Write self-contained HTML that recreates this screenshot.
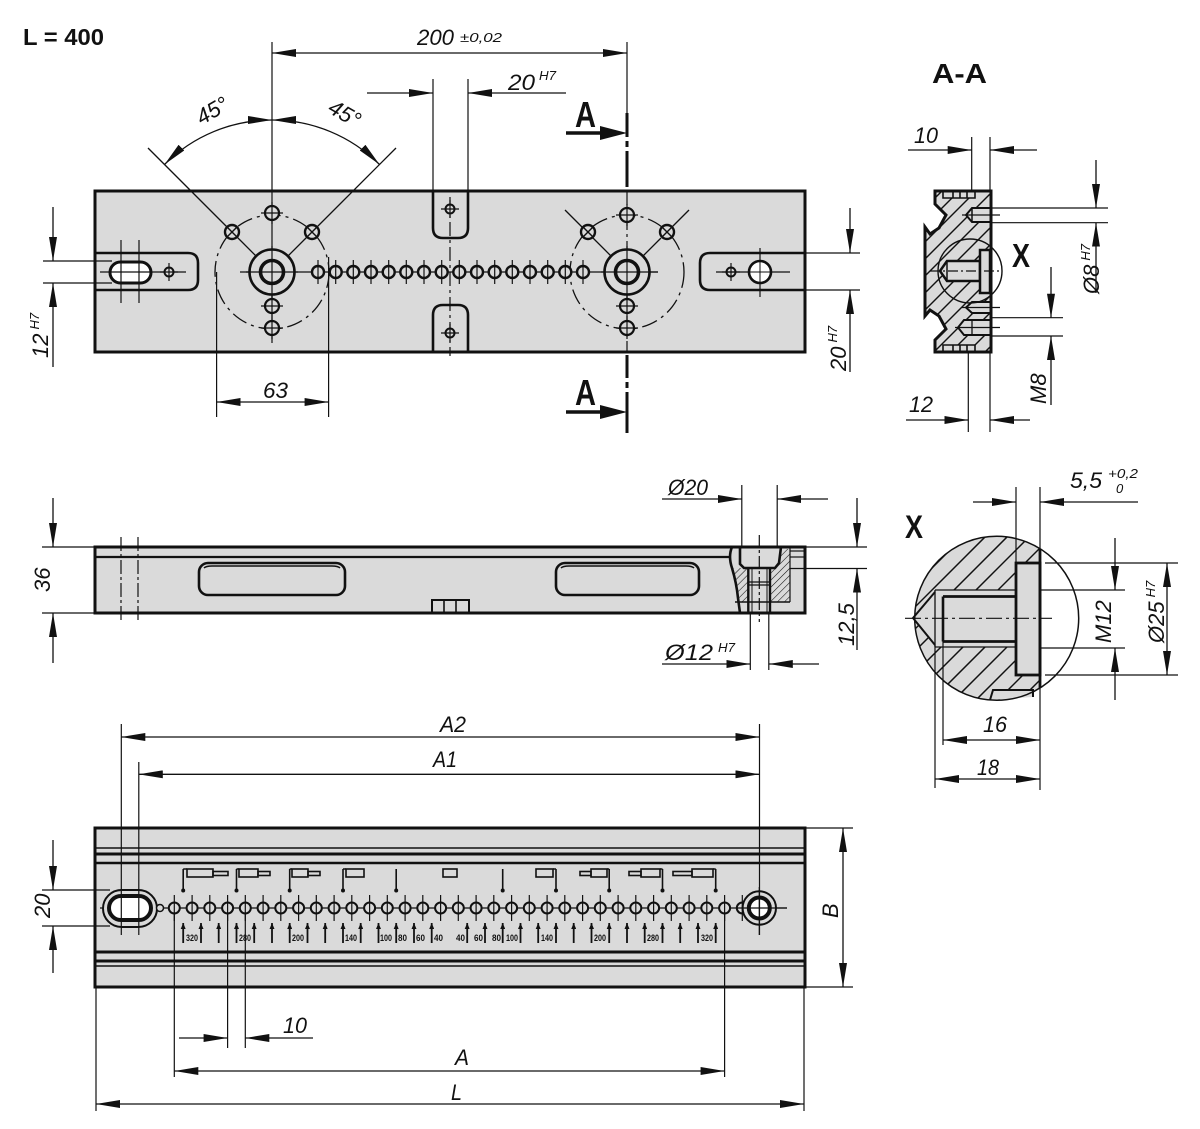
<!DOCTYPE html>
<html><head><meta charset="utf-8"><style>
html,body{margin:0;padding:0;background:#fff;}
svg{display:block;}
.t{font-family:"Liberation Sans",Arial,sans-serif;font-style:italic;font-size:22px;fill:#111;stroke:none;}
.s{font-family:"Liberation Sans",Arial,sans-serif;font-style:italic;font-size:13px;fill:#111;stroke:none;}
.b{font-family:"Liberation Sans",Arial,sans-serif;font-weight:bold;fill:#111;stroke:none;}
.n{font-family:"Liberation Sans",Arial,sans-serif;font-weight:bold;font-size:9px;fill:#111;stroke:none;}
</style></head><body>
<svg width="1200" height="1129" viewBox="0 0 1200 1129" xmlns="http://www.w3.org/2000/svg">
<defs>
<marker id="ar" viewBox="0 0 24 8" refX="24" refY="4" markerWidth="24" markerHeight="8" markerUnits="userSpaceOnUse" orient="auto-start-reverse"><path d="M0,0L24,4L0,8z" fill="#111" stroke="none"/></marker>
<marker id="sa" viewBox="0 0 6 5" refX="6" refY="2.5" markerWidth="6" markerHeight="5" markerUnits="userSpaceOnUse" orient="auto"><path d="M0,0L6,2.5L0,5z" fill="#111" stroke="none"/></marker>
<g id="rh"><circle r="6" fill="#dadada" stroke-width="2.4"/><line x1="0" y1="-12" x2="0" y2="12" stroke-width="1.2"/></g>
<g id="ph"><circle r="7" fill="#dadada" stroke-width="2.2"/><line x1="-11" y1="0" x2="11" y2="0" stroke-width="1.2"/><line x1="0" y1="-11" x2="0" y2="11" stroke-width="1.2"/></g>
<g id="xh"><circle r="7" fill="#dadada" stroke-width="2.4"/><line x1="-5" y1="-5" x2="5" y2="5" stroke-width="1.4"/><line x1="-5" y1="5" x2="5" y2="-5" stroke-width="1.4"/></g>
<g id="sh"><circle r="4.5" fill="#dadada" stroke-width="2"/><line x1="-9" y1="0" x2="9" y2="0" stroke-width="1.2"/><line x1="0" y1="-9" x2="0" y2="9" stroke-width="1.2"/></g>
<g id="bh"><circle r="5.5" fill="#dadada" stroke-width="2"/><line x1="0" y1="-13" x2="0" y2="13" stroke-width="1.2"/></g>
<pattern id="hS" width="5" height="5" patternUnits="userSpaceOnUse" patternTransform="rotate(45)"><line x1="0" y1="0" x2="0" y2="5" stroke="#111" stroke-width="1.1"/></pattern>
<clipPath id="cpA"><polygon points="935,191 991,191 991,352 935,352 935,340 946,329 939,316 930,310 925,316 925,227 930,234 939,228 946,215 935,204"/></clipPath>
<clipPath id="cpX"><path d="M1040,548.7 A82,82 0 1 0 1040,687.9 Z"/></clipPath>
</defs>

<g stroke="#111" fill="none">

<!-- ================= TOP VIEW ================= -->
<rect x="95" y="191" width="710" height="161" fill="#dadada" stroke-width="3"/>

<path d="M96,253 H188 Q198,253 198,263 V280 Q198,290 188,290 H96" stroke-width="2.6"/>
<rect x="110" y="262" width="41" height="21" rx="10.5" fill="#fff" stroke-width="3"/>
<line x1="121" y1="240" x2="121" y2="303" stroke-width="1.2"/>
<line x1="139" y1="240" x2="139" y2="303" stroke-width="1.2"/>
<line x1="100" y1="272" x2="186" y2="272" stroke-width="1.2"/>
<use href="#sh" x="169" y="272"/>

<path d="M433,191 V228 Q433,238 443,238 H458 Q468,238 468,228 V191" stroke-width="2.6"/>
<path d="M433,352 V315 Q433,305 443,305 H458 Q468,305 468,315 V352" stroke-width="2.6"/>
<line x1="450" y1="197" x2="450" y2="356" stroke-width="1.2" stroke-dasharray="14 4 3 4"/>
<use href="#sh" x="450" y="209"/>
<use href="#sh" x="450" y="333"/>

<path d="M804,253 H710 Q700,253 700,263 V280 Q700,290 710,290 H804" stroke-width="2.6"/>
<use href="#sh" x="731" y="272"/>
<line x1="716" y1="272" x2="790" y2="272" stroke-width="1.2"/>
<line x1="760" y1="248" x2="760" y2="297" stroke-width="1.2"/>
<circle cx="760" cy="272" r="11" fill="#fff" stroke-width="2.6"/>
<line x1="749" y1="272" x2="771" y2="272" stroke-width="1"/>
<line x1="760" y1="261" x2="760" y2="283" stroke-width="1"/>

<line x1="240" y1="272" x2="658" y2="272" stroke-width="1.2"/>
<line x1="272" y1="42" x2="272" y2="343" stroke-width="1.2"/>

<circle cx="272" cy="272" r="57" stroke-width="1.3" stroke-dasharray="16 5 3 5"/>
<line x1="148" y1="148" x2="227" y2="227" stroke-width="1.3"/>
<line x1="237" y1="237" x2="256" y2="256" stroke-width="1.3"/>
<line x1="396" y1="148" x2="317" y2="227" stroke-width="1.3"/>
<line x1="307" y1="237" x2="288" y2="256" stroke-width="1.3"/>
<circle cx="272" cy="272" r="22.5" fill="#dadada" stroke-width="2.6"/>
<circle cx="272" cy="272" r="11.5" stroke-width="3.6"/>
<line x1="246" y1="272" x2="298" y2="272" stroke-width="1.2"/>
<line x1="272" y1="246" x2="272" y2="298" stroke-width="1.2"/>
<use href="#ph" x="272" y="213"/>
<use href="#xh" x="232" y="232"/>
<use href="#xh" x="312" y="232"/>
<use href="#ph" x="272" y="306"/>
<use href="#ph" x="272" y="328"/>

<line x1="627" y1="191" x2="627" y2="352" stroke-width="1.2" stroke-dasharray="14 4 3 4"/>
<circle cx="627" cy="272" r="57" stroke-width="1.3" stroke-dasharray="16 5 3 5"/>
<line x1="565" y1="210" x2="582" y2="227" stroke-width="1.3"/>
<line x1="593" y1="238" x2="611" y2="256" stroke-width="1.3"/>
<line x1="689" y1="210" x2="672" y2="227" stroke-width="1.3"/>
<line x1="661" y1="238" x2="643" y2="256" stroke-width="1.3"/>
<circle cx="627" cy="272" r="22.5" fill="#dadada" stroke-width="2.6"/>
<circle cx="627" cy="272" r="11.5" stroke-width="3.6"/>
<line x1="601" y1="272" x2="658" y2="272" stroke-width="1.2"/>
<line x1="627" y1="246" x2="627" y2="298" stroke-width="1.2"/>
<use href="#ph" x="627" y="215"/>
<use href="#xh" x="588" y="232"/>
<use href="#xh" x="667" y="232"/>
<use href="#ph" x="627" y="306"/>
<use href="#ph" x="627" y="328"/>

<use href="#rh" x="318" y="272"/><use href="#rh" x="335.7" y="272"/><use href="#rh" x="353.3" y="272"/><use href="#rh" x="371" y="272"/>
<use href="#rh" x="388.7" y="272"/><use href="#rh" x="406.3" y="272"/><use href="#rh" x="424" y="272"/><use href="#rh" x="441.7" y="272"/>
<use href="#rh" x="459.3" y="272"/><use href="#rh" x="477" y="272"/><use href="#rh" x="494.7" y="272"/><use href="#rh" x="512.3" y="272"/>
<use href="#rh" x="530" y="272"/><use href="#rh" x="547.7" y="272"/><use href="#rh" x="565.3" y="272"/><use href="#rh" x="583" y="272"/>

<path d="M272,120 A152,152 0 0 0 164.5,164.5" stroke-width="1.3" marker-start="url(#ar)" marker-end="url(#ar)"/>
<path d="M272,120 A152,152 0 0 1 379.5,164.5" stroke-width="1.3" marker-start="url(#ar)" marker-end="url(#ar)"/>

<line x1="627" y1="42" x2="627" y2="113" stroke-width="1.2"/>
<line x1="272" y1="53" x2="627" y2="53" stroke-width="1.3" marker-start="url(#ar)" marker-end="url(#ar)"/>

<path d="M627,113 V137 M627,141 V147 M627,151 V187" stroke-width="3"/>
<path d="M627,355 V378 M627,382 V388 M627,392 V433" stroke-width="3"/>
<line x1="566" y1="133" x2="604" y2="133" stroke-width="3.5"/>
<polygon points="600,126 627,133 600,140" fill="#111" stroke="none"/>
<line x1="566" y1="412" x2="604" y2="412" stroke-width="3.5"/>
<polygon points="600,405 627,412 600,419" fill="#111" stroke="none"/>

<line x1="433" y1="79" x2="433" y2="191" stroke-width="1.2"/>
<line x1="468" y1="79" x2="468" y2="191" stroke-width="1.2"/>
<line x1="367" y1="93" x2="433" y2="93" stroke-width="1.3" marker-end="url(#ar)"/>
<line x1="566" y1="93" x2="468" y2="93" stroke-width="1.3" marker-end="url(#ar)"/>

<line x1="216.6" y1="272" x2="216.6" y2="417" stroke-width="1.2"/>
<line x1="328.6" y1="257" x2="328.6" y2="417" stroke-width="1.2"/>
<line x1="216.6" y1="402" x2="328.6" y2="402" stroke-width="1.3" marker-start="url(#ar)" marker-end="url(#ar)"/>

<line x1="43" y1="261" x2="112" y2="261" stroke-width="1.2"/>
<line x1="43" y1="283" x2="112" y2="283" stroke-width="1.2"/>
<line x1="53" y1="207" x2="53" y2="261" stroke-width="1.3" marker-end="url(#ar)"/>
<line x1="53" y1="367" x2="53" y2="283" stroke-width="1.3" marker-end="url(#ar)"/>

<line x1="805" y1="253" x2="860" y2="253" stroke-width="1.2"/>
<line x1="805" y1="290" x2="860" y2="290" stroke-width="1.2"/>
<line x1="850" y1="208" x2="850" y2="253" stroke-width="1.3" marker-end="url(#ar)"/>
<line x1="850" y1="372" x2="850" y2="290" stroke-width="1.3" marker-end="url(#ar)"/>

<!-- ================= SECTION A-A ================= -->
<polygon points="935,191 991,191 991,352 935,352 935,340 946,329 939,316 930,310 925,316 925,227 930,234 939,228 946,215 935,204" fill="#dadada"/>
<g clip-path="url(#cpA)" stroke-width="1.4">
<line x1="756" y1="360" x2="926" y2="190"/><line x1="773" y1="360" x2="943" y2="190"/><line x1="790" y1="360" x2="960" y2="190"/>
<line x1="807" y1="360" x2="977" y2="190"/><line x1="824" y1="360" x2="994" y2="190"/><line x1="841" y1="360" x2="1011" y2="190"/>
<line x1="858" y1="360" x2="1028" y2="190"/><line x1="875" y1="360" x2="1045" y2="190"/><line x1="892" y1="360" x2="1062" y2="190"/>
<line x1="909" y1="360" x2="1079" y2="190"/><line x1="926" y1="360" x2="1096" y2="190"/><line x1="943" y1="360" x2="1113" y2="190"/>
<line x1="960" y1="360" x2="1130" y2="190"/><line x1="977" y1="360" x2="1147" y2="190"/>
</g>
<polygon points="966,215 972,208 991,208 991,222 972,222" fill="#dadada" stroke-width="2"/>
<line x1="972" y1="208" x2="972" y2="222" stroke-width="1.5"/>
<polygon points="966,307.5 972,302 991,302 991,313 972,313" fill="#dadada" stroke-width="2"/>
<polygon points="958,327.5 964,320 991,320 991,335 964,335" fill="#dadada" stroke-width="2"/>
<line x1="972" y1="320" x2="972" y2="335" stroke-width="1.3"/>
<path d="M943,191 V198 H975 V191 M953,191 V198 M960,191 V198 M967,191 V198" fill="#dadada" stroke-width="1.6"/>
<path d="M943,352 V345 H975 V352 M953,352 V345 M960,352 V345 M967,352 V345" fill="#dadada" stroke-width="1.6"/>
<polygon points="940,271 947,261 980,261 980,281 947,281" fill="#dadada" stroke-width="2.5"/>
<line x1="947" y1="261" x2="947" y2="281" stroke-width="1.5"/>
<rect x="980" y="250" width="10" height="43" fill="#dadada" stroke-width="2.5"/>
<polygon points="935,191 991,191 991,352 935,352 935,340 946,329 939,316 930,310 925,316 925,227 930,234 939,228 946,215 935,204" stroke-width="3"/>
<circle cx="970" cy="271" r="32" stroke-width="1.4"/>
<line x1="930" y1="271" x2="1000" y2="271" stroke-width="1.2" stroke-dasharray="10 3 2 3"/>
<line x1="962" y1="215" x2="1000" y2="215" stroke-width="1.2"/>
<line x1="962" y1="307.5" x2="1000" y2="307.5" stroke-width="1.2"/>
<line x1="955" y1="327.5" x2="1000" y2="327.5" stroke-width="1.2"/>

<line x1="971.7" y1="137" x2="971.7" y2="191" stroke-width="1.2"/>
<line x1="990" y1="137" x2="990" y2="191" stroke-width="1.2"/>
<line x1="908" y1="150" x2="971.7" y2="150" stroke-width="1.3" marker-end="url(#ar)"/>
<line x1="1037" y1="150" x2="990" y2="150" stroke-width="1.3" marker-end="url(#ar)"/>
<line x1="968.3" y1="352" x2="968.3" y2="432" stroke-width="1.2"/>
<line x1="990" y1="352" x2="990" y2="432" stroke-width="1.2"/>
<line x1="906" y1="420" x2="968.3" y2="420" stroke-width="1.3" marker-end="url(#ar)"/>
<line x1="1030" y1="420" x2="990" y2="420" stroke-width="1.3" marker-end="url(#ar)"/>
<line x1="991" y1="208" x2="1108" y2="208" stroke-width="1.2"/>
<line x1="991" y1="222.7" x2="1108" y2="222.7" stroke-width="1.2"/>
<line x1="1096" y1="160" x2="1096" y2="208" stroke-width="1.3" marker-end="url(#ar)"/>
<line x1="1096" y1="293" x2="1096" y2="222.7" stroke-width="1.3" marker-end="url(#ar)"/>
<line x1="991" y1="317.7" x2="1063" y2="317.7" stroke-width="1.2"/>
<line x1="991" y1="336" x2="1063" y2="336" stroke-width="1.2"/>
<line x1="1051" y1="267" x2="1051" y2="317.7" stroke-width="1.3" marker-end="url(#ar)"/>
<line x1="1051" y1="405" x2="1051" y2="336" stroke-width="1.3" marker-end="url(#ar)"/>

<!-- ================= SIDE VIEW ================= -->
<rect x="95" y="547" width="710" height="66" fill="#dadada" stroke-width="3"/>
<line x1="95" y1="557" x2="731" y2="557" stroke-width="2.2"/>
<rect x="199" y="563" width="146" height="32" rx="9" stroke-width="2.6"/>
<path d="M204,568 Q206,566 212,566 H332 Q338,566 340,568" stroke-width="1.5"/>
<rect x="556" y="563" width="143" height="32" rx="9" stroke-width="2.6"/>
<path d="M561,568 Q563,566 569,566 H686 Q692,566 694,568" stroke-width="1.5"/>
<line x1="121" y1="537" x2="121" y2="622" stroke-width="1.2" stroke-dasharray="14 3 3 3"/>
<line x1="138" y1="537" x2="138" y2="622" stroke-width="1.2" stroke-dasharray="14 3 3 3"/>
<rect x="432" y="600" width="37" height="13" stroke-width="2"/>
<line x1="444" y1="600" x2="444" y2="613" stroke-width="1.6"/>
<line x1="456" y1="600" x2="456" y2="613" stroke-width="1.6"/>
<path d="M733,568 H748 V602 H739 C738,592 736,580 733,568 Z" fill="url(#hS)" stroke="none"/>
<path d="M771,568 L779,563 L781,549 H790 V602 H771 Z" fill="url(#hS)" stroke="none"/>
<path d="M732,547 C729,554 730,562 732,568 C735,578 737,588 738,598 L740,613" stroke-width="2.6"/>
<path d="M740,547 V564 L744,568 H775 L779,563 L781,547" stroke-width="2.6"/>
<line x1="748.3" y1="568" x2="748.3" y2="613" stroke-width="2.4"/>
<line x1="770" y1="568" x2="770" y2="613" stroke-width="2.4"/>
<line x1="752" y1="568" x2="752" y2="613" stroke-width="1"/>
<line x1="767" y1="568" x2="767" y2="613" stroke-width="1"/>
<line x1="748" y1="582" x2="770" y2="582" stroke-width="1.2"/>
<line x1="748" y1="585" x2="770" y2="585" stroke-width="1.2"/>
<line x1="735" y1="602" x2="790" y2="602" stroke-width="1.5"/>
<line x1="790" y1="547" x2="790" y2="602" stroke-width="1.2"/>
<line x1="790" y1="551" x2="805" y2="551" stroke-width="1.2"/>
<line x1="790" y1="557" x2="805" y2="557" stroke-width="1.2"/>
<line x1="759.3" y1="535" x2="759.3" y2="622" stroke-width="1.2" stroke-dasharray="12 3 3 3"/>
<line x1="741.8" y1="485" x2="741.8" y2="547" stroke-width="1.2"/>
<line x1="777.2" y1="485" x2="777.2" y2="547" stroke-width="1.2"/>
<line x1="662" y1="499" x2="741.8" y2="499" stroke-width="1.3" marker-end="url(#ar)"/>
<line x1="828" y1="499" x2="777.2" y2="499" stroke-width="1.3" marker-end="url(#ar)"/>
<line x1="750.3" y1="613" x2="750.3" y2="670" stroke-width="1.2"/>
<line x1="768.8" y1="613" x2="768.8" y2="670" stroke-width="1.2"/>
<line x1="662" y1="664" x2="750.3" y2="664" stroke-width="1.3" marker-end="url(#ar)"/>
<line x1="819" y1="664" x2="768.8" y2="664" stroke-width="1.3" marker-end="url(#ar)"/>
<line x1="42" y1="547" x2="95" y2="547" stroke-width="1.2"/>
<line x1="42" y1="613" x2="95" y2="613" stroke-width="1.2"/>
<line x1="53" y1="498" x2="53" y2="547" stroke-width="1.3" marker-end="url(#ar)"/>
<line x1="53" y1="663" x2="53" y2="613" stroke-width="1.3" marker-end="url(#ar)"/>
<line x1="805" y1="547" x2="867" y2="547" stroke-width="1.2"/>
<line x1="790" y1="568.5" x2="867" y2="568.5" stroke-width="1.2"/>
<line x1="857" y1="498" x2="857" y2="547" stroke-width="1.3" marker-end="url(#ar)"/>
<line x1="857" y1="650" x2="857" y2="568.5" stroke-width="1.3" marker-end="url(#ar)"/>

<!-- ================= DETAIL X ================= -->
<path d="M1040,548.7 A82,82 0 1 0 1040,687.9 Z" fill="#dadada" stroke="none"/>
<g clip-path="url(#cpX)" stroke-width="1.5">
<line x1="736" y1="720" x2="936" y2="520"/><line x1="758" y1="720" x2="958" y2="520"/><line x1="780" y1="720" x2="980" y2="520"/>
<line x1="802" y1="720" x2="1002" y2="520"/><line x1="824" y1="720" x2="1024" y2="520"/><line x1="846" y1="720" x2="1046" y2="520"/>
<line x1="868" y1="720" x2="1068" y2="520"/><line x1="890" y1="720" x2="1090" y2="520"/><line x1="912" y1="720" x2="1112" y2="520"/>
<line x1="934" y1="720" x2="1134" y2="520"/><line x1="956" y1="720" x2="1156" y2="520"/><line x1="978" y1="720" x2="1178" y2="520"/>
<line x1="1000" y1="720" x2="1200" y2="520"/><line x1="1022" y1="720" x2="1222" y2="520"/>
</g>
<polygon points="913,618 935,590 1016,590 1016,647 935,647" fill="#dadada" stroke="none"/>
<rect x="1016" y="563" width="24" height="112" fill="#dadada" stroke-width="2.8"/>
<path d="M935,590 H1016 M935,647 H1016" stroke-width="1.3"/>
<path d="M943,596.5 H1016 M943,641.5 H1016" stroke-width="2.8"/>
<path d="M935,592 L913,618 L935,645" stroke-width="2"/>
<line x1="935" y1="590" x2="935" y2="647" stroke-width="1.3"/>
<line x1="943" y1="596.5" x2="943" y2="641.5" stroke-width="2.6"/>
<path d="M990,700 L993,690 H1033 V697" fill="#dadada" stroke-width="2"/>
<line x1="1040" y1="549" x2="1040" y2="688" stroke-width="2.8"/>
<circle cx="996.7" cy="618.3" r="82" stroke-width="1.5"/>
<line x1="905" y1="618.3" x2="1052" y2="618.3" stroke-width="1.2" stroke-dasharray="16 4 3 4"/>
<line x1="1016" y1="487" x2="1016" y2="563" stroke-width="1.2"/>
<line x1="1040" y1="487" x2="1040" y2="549" stroke-width="1.2"/>
<line x1="973" y1="502" x2="1016" y2="502" stroke-width="1.3" marker-end="url(#ar)"/>
<line x1="1138" y1="502" x2="1040" y2="502" stroke-width="1.3" marker-end="url(#ar)"/>
<line x1="1040" y1="590" x2="1125" y2="590" stroke-width="1.2"/>
<line x1="1040" y1="648" x2="1125" y2="648" stroke-width="1.2"/>
<line x1="1115" y1="538" x2="1115" y2="590" stroke-width="1.3" marker-end="url(#ar)"/>
<line x1="1115" y1="700" x2="1115" y2="648" stroke-width="1.3" marker-end="url(#ar)"/>
<line x1="1045" y1="563" x2="1178" y2="563" stroke-width="1.2"/>
<line x1="1045" y1="675" x2="1178" y2="675" stroke-width="1.2"/>
<line x1="1167" y1="563" x2="1167" y2="675" stroke-width="1.3" marker-start="url(#ar)" marker-end="url(#ar)"/>
<line x1="943" y1="641" x2="943" y2="745" stroke-width="1.2"/>
<line x1="1040" y1="688" x2="1040" y2="790" stroke-width="1.2"/>
<line x1="935" y1="645" x2="935" y2="788" stroke-width="1.2"/>
<line x1="943" y1="740" x2="1040" y2="740" stroke-width="1.3" marker-start="url(#ar)" marker-end="url(#ar)"/>
<line x1="935" y1="779" x2="1040" y2="779" stroke-width="1.3" marker-start="url(#ar)" marker-end="url(#ar)"/>

<!-- ================= BOTTOM VIEW ================= -->
<rect x="95" y="828" width="710" height="159" fill="#dadada" stroke-width="3"/>
<line x1="95" y1="848" x2="805" y2="848" stroke-width="1.5"/>
<line x1="95" y1="854" x2="805" y2="854" stroke-width="3"/>
<line x1="95" y1="863" x2="805" y2="863" stroke-width="2.5"/>
<line x1="95" y1="952" x2="805" y2="952" stroke-width="3"/>
<line x1="95" y1="961" x2="805" y2="961" stroke-width="3"/>
<line x1="95" y1="966" x2="805" y2="966" stroke-width="1.5"/>

<line x1="100" y1="908" x2="787" y2="908" stroke-width="1.2"/>
<rect x="103" y="890" width="54" height="37" rx="18.5" fill="#dadada" stroke-width="2"/>
<rect x="109" y="896" width="42" height="24" rx="12" fill="#fff" stroke-width="4"/>
<circle cx="160" cy="908" r="3.5" fill="#dadada" stroke-width="1.5"/>

<use href="#bh" x="174.3" y="908"/><use href="#bh" x="192.1" y="908"/><use href="#bh" x="209.8" y="908"/><use href="#bh" x="227.6" y="908"/>
<use href="#bh" x="245.3" y="908"/><use href="#bh" x="263.1" y="908"/><use href="#bh" x="280.8" y="908"/><use href="#bh" x="298.6" y="908"/>
<use href="#bh" x="316.3" y="908"/><use href="#bh" x="334.1" y="908"/><use href="#bh" x="351.8" y="908"/><use href="#bh" x="369.6" y="908"/>
<use href="#bh" x="387.3" y="908"/><use href="#bh" x="405.1" y="908"/><use href="#bh" x="422.8" y="908"/><use href="#bh" x="440.6" y="908"/>
<use href="#bh" x="458.3" y="908"/><use href="#bh" x="476.1" y="908"/><use href="#bh" x="493.8" y="908"/><use href="#bh" x="511.6" y="908"/>
<use href="#bh" x="529.3" y="908"/><use href="#bh" x="547.1" y="908"/><use href="#bh" x="564.8" y="908"/><use href="#bh" x="582.6" y="908"/>
<use href="#bh" x="600.3" y="908"/><use href="#bh" x="618.1" y="908"/><use href="#bh" x="635.8" y="908"/><use href="#bh" x="653.6" y="908"/>
<use href="#bh" x="671.3" y="908"/><use href="#bh" x="689.1" y="908"/><use href="#bh" x="706.8" y="908"/><use href="#bh" x="724.6" y="908"/>
<use href="#bh" x="742.3" y="908"/>
<circle cx="759.3" cy="908" r="16.7" fill="#dadada" stroke-width="2"/>
<circle cx="759.3" cy="908" r="10.5" fill="#fff" stroke-width="4"/>
<line x1="759.3" y1="887" x2="759.3" y2="935" stroke-width="1.2"/>
<line x1="736" y1="908" x2="787" y2="908" stroke-width="1.2"/>

<g stroke-width="1.6">
<path d="M183.2,869 V889 M236.5,869 V889 M289.7,869 V889 M343,869 V889 M396.2,869 V889 M502.7,869 V889 M556,869 V889 M609.2,869 V889 M662.5,869 V889 M715.7,869 V889"/>
<path d="M183.2,869 H187 M236.5,869 H239 M289.7,869 H292 M343,869 H346 M556,869 H553 M609.2,869 H607 M662.5,869 H660 M715.7,869 H713"/>
<rect x="187" y="869" width="26" height="8"/><rect x="213" y="871.5" width="15" height="4"/>
<rect x="239" y="869" width="19" height="8"/><rect x="258" y="871.5" width="12" height="4"/>
<rect x="292" y="869" width="16" height="8"/><rect x="308" y="871.5" width="12" height="4"/>
<rect x="346" y="869" width="18" height="8"/>
<rect x="443" y="869" width="14" height="8"/>
<rect x="536" y="869" width="17" height="8"/>
<rect x="591" y="869" width="16" height="8"/><rect x="580" y="871.5" width="11" height="4"/>
<rect x="641" y="869" width="19" height="8"/><rect x="629" y="871.5" width="12" height="4"/>
<rect x="692" y="869" width="21" height="8"/><rect x="673" y="871.5" width="19" height="4"/>
</g>
<g fill="#111" stroke="none">
<circle cx="183.2" cy="890.5" r="2"/><circle cx="236.5" cy="890.5" r="2"/><circle cx="289.7" cy="890.5" r="2"/><circle cx="343" cy="890.5" r="2"/><circle cx="396.2" cy="890.5" r="2"/>
<circle cx="502.7" cy="890.5" r="2"/><circle cx="556" cy="890.5" r="2"/><circle cx="609.2" cy="890.5" r="2"/><circle cx="662.5" cy="890.5" r="2"/><circle cx="715.7" cy="890.5" r="2"/>
</g>
<g stroke-width="1.8" marker-end="url(#sa)">
<line x1="183.2" y1="943" x2="183.2" y2="923"/><line x1="201" y1="943" x2="201" y2="923"/><line x1="218.7" y1="943" x2="218.7" y2="923"/>
<line x1="236.5" y1="943" x2="236.5" y2="923"/><line x1="254.2" y1="943" x2="254.2" y2="923"/><line x1="272" y1="943" x2="272" y2="923"/>
<line x1="289.7" y1="943" x2="289.7" y2="923"/><line x1="307.5" y1="943" x2="307.5" y2="923"/><line x1="325.2" y1="943" x2="325.2" y2="923"/>
<line x1="343" y1="943" x2="343" y2="923"/><line x1="360.7" y1="943" x2="360.7" y2="923"/><line x1="378.5" y1="943" x2="378.5" y2="923"/>
<line x1="396.2" y1="943" x2="396.2" y2="923"/><line x1="414" y1="943" x2="414" y2="923"/><line x1="431.7" y1="943" x2="431.7" y2="923"/>
<line x1="467.2" y1="943" x2="467.2" y2="923"/><line x1="485" y1="943" x2="485" y2="923"/>
<line x1="502.7" y1="943" x2="502.7" y2="923"/><line x1="520.5" y1="943" x2="520.5" y2="923"/><line x1="538.2" y1="943" x2="538.2" y2="923"/>
<line x1="556" y1="943" x2="556" y2="923"/><line x1="573.7" y1="943" x2="573.7" y2="923"/><line x1="591.5" y1="943" x2="591.5" y2="923"/>
<line x1="609.2" y1="943" x2="609.2" y2="923"/><line x1="627" y1="943" x2="627" y2="923"/><line x1="644.7" y1="943" x2="644.7" y2="923"/>
<line x1="662.5" y1="943" x2="662.5" y2="923"/><line x1="680.2" y1="943" x2="680.2" y2="923"/><line x1="698" y1="943" x2="698" y2="923"/>
<line x1="715.7" y1="943" x2="715.7" y2="923"/>
</g>

<line x1="121.3" y1="724" x2="121.3" y2="935" stroke-width="1.2"/>
<line x1="138.8" y1="762" x2="138.8" y2="935" stroke-width="1.2"/>
<line x1="759.5" y1="724" x2="759.5" y2="935" stroke-width="1.2"/>
<line x1="121.3" y1="737" x2="759.5" y2="737" stroke-width="1.3" marker-start="url(#ar)" marker-end="url(#ar)"/>
<line x1="138.8" y1="774.3" x2="759.5" y2="774.3" stroke-width="1.3" marker-start="url(#ar)" marker-end="url(#ar)"/>
<line x1="805" y1="828" x2="853" y2="828" stroke-width="1.2"/>
<line x1="805" y1="987" x2="853" y2="987" stroke-width="1.2"/>
<line x1="843" y1="828" x2="843" y2="987" stroke-width="1.3" marker-start="url(#ar)" marker-end="url(#ar)"/>
<line x1="42" y1="890" x2="110" y2="890" stroke-width="1.2"/>
<line x1="42" y1="926" x2="110" y2="926" stroke-width="1.2"/>
<line x1="53" y1="840" x2="53" y2="890" stroke-width="1.3" marker-end="url(#ar)"/>
<line x1="53" y1="973" x2="53" y2="926" stroke-width="1.3" marker-end="url(#ar)"/>
<line x1="227.6" y1="914" x2="227.6" y2="1048" stroke-width="1.2"/>
<line x1="245.3" y1="914" x2="245.3" y2="1048" stroke-width="1.2"/>
<line x1="179" y1="1038" x2="227.6" y2="1038" stroke-width="1.3" marker-end="url(#ar)"/>
<line x1="313" y1="1038" x2="245.3" y2="1038" stroke-width="1.3" marker-end="url(#ar)"/>
<line x1="174.3" y1="914" x2="174.3" y2="1077" stroke-width="1.2"/>
<line x1="724.6" y1="914" x2="724.6" y2="1077" stroke-width="1.2"/>
<line x1="174.3" y1="1071" x2="724.6" y2="1071" stroke-width="1.3" marker-start="url(#ar)" marker-end="url(#ar)"/>
<line x1="96" y1="987" x2="96" y2="1111" stroke-width="1.2"/>
<line x1="804" y1="987" x2="804" y2="1111" stroke-width="1.2"/>
<line x1="96" y1="1104" x2="804" y2="1104" stroke-width="1.3" marker-start="url(#ar)" marker-end="url(#ar)"/>
</g>

<!-- ================= TEXT ================= -->
<text class="b" x="23" y="45" font-size="23" textLength="81" lengthAdjust="spacingAndGlyphs">L = 400</text>
<text class="t" x="417" y="45" textLength="37" lengthAdjust="spacingAndGlyphs">200</text>
<text class="s" x="460" y="42" textLength="42" lengthAdjust="spacingAndGlyphs">±0,02</text>
<text class="t" x="508" y="90" textLength="27" lengthAdjust="spacingAndGlyphs">20</text>
<text class="s" x="539" y="80" textLength="17" lengthAdjust="spacingAndGlyphs">H7</text>
<text class="t" transform="translate(216,117) rotate(-30)" text-anchor="middle">45°</text>
<text class="t" transform="translate(341,120) rotate(30)" text-anchor="middle">45°</text>
<text class="b" x="575" y="127" font-size="36" textLength="21" lengthAdjust="spacingAndGlyphs">A</text>
<text class="b" x="575" y="405" font-size="36" textLength="21" lengthAdjust="spacingAndGlyphs">A</text>
<text class="t" x="263" y="398" textLength="25" lengthAdjust="spacingAndGlyphs">63</text>
<text class="t" transform="translate(48,358) rotate(-90)">12<tspan class="s" dx="4" dy="-9">H7</tspan></text>
<text class="t" transform="translate(846,371) rotate(-90)">20<tspan class="s" dx="4" dy="-9">H7</tspan></text>

<text class="b" x="932" y="83" font-size="28" textLength="55" lengthAdjust="spacingAndGlyphs">A-A</text>
<text class="t" x="914" y="143" textLength="24" lengthAdjust="spacingAndGlyphs">10</text>
<text class="t" x="909" y="412" textLength="24" lengthAdjust="spacingAndGlyphs">12</text>
<text class="b" x="1012" y="267" font-size="33" textLength="18" lengthAdjust="spacingAndGlyphs">X</text>
<text class="t" transform="translate(1099,294) rotate(-90)">Ø8<tspan class="s" dx="4" dy="-9">H7</tspan></text>
<text class="t" transform="translate(1046,404) rotate(-90)">M8</text>

<text class="t" x="668" y="495" textLength="40" lengthAdjust="spacingAndGlyphs">Ø20</text>
<text class="t" x="665" y="660" textLength="48" lengthAdjust="spacingAndGlyphs">Ø12</text>
<text class="s" x="718" y="652" textLength="17" lengthAdjust="spacingAndGlyphs">H7</text>
<text class="t" transform="translate(50,592) rotate(-90)">36</text>
<text class="t" transform="translate(854,646) rotate(-90)">12,5</text>

<text class="b" x="905" y="538" font-size="32" textLength="18" lengthAdjust="spacingAndGlyphs">X</text>
<text class="t" x="1070" y="488" textLength="32" lengthAdjust="spacingAndGlyphs">5,5</text>
<text class="s" x="1108" y="478" font-size="14" textLength="30" lengthAdjust="spacingAndGlyphs">+0,2</text>
<text class="s" x="1116" y="493" font-size="14">0</text>
<text class="t" transform="translate(1111,643) rotate(-90)">M12</text>
<text class="t" transform="translate(1164,643) rotate(-90)">Ø25<tspan class="s" dx="4" dy="-9">H7</tspan></text>
<text class="t" x="983" y="732" textLength="24" lengthAdjust="spacingAndGlyphs">16</text>
<text class="t" x="977" y="775" textLength="22" lengthAdjust="spacingAndGlyphs">18</text>

<text class="t" x="440" y="732" textLength="26" lengthAdjust="spacingAndGlyphs">A2</text>
<text class="t" x="433" y="767" textLength="24" lengthAdjust="spacingAndGlyphs">A1</text>
<text class="t" transform="translate(838,918) rotate(-90)">B</text>
<text class="t" transform="translate(50,918) rotate(-90)">20</text>
<text class="t" x="283" y="1033" textLength="24" lengthAdjust="spacingAndGlyphs">10</text>
<text class="t" x="455" y="1065" textLength="14" lengthAdjust="spacingAndGlyphs">A</text>
<text class="t" x="451" y="1100" textLength="11" lengthAdjust="spacingAndGlyphs">L</text>

<text class="n" x="186" y="941" textLength="12" lengthAdjust="spacingAndGlyphs">320</text>
<text class="n" x="239" y="941" textLength="12" lengthAdjust="spacingAndGlyphs">280</text>
<text class="n" x="292" y="941" textLength="12" lengthAdjust="spacingAndGlyphs">200</text>
<text class="n" x="345" y="941" textLength="12" lengthAdjust="spacingAndGlyphs">140</text>
<text class="n" x="380" y="941" textLength="12" lengthAdjust="spacingAndGlyphs">100</text>
<text class="n" x="398" y="941" textLength="9" lengthAdjust="spacingAndGlyphs">80</text>
<text class="n" x="416" y="941" textLength="9" lengthAdjust="spacingAndGlyphs">60</text>
<text class="n" x="434" y="941" textLength="9" lengthAdjust="spacingAndGlyphs">40</text>
<text class="n" x="456" y="941" textLength="9" lengthAdjust="spacingAndGlyphs">40</text>
<text class="n" x="474" y="941" textLength="9" lengthAdjust="spacingAndGlyphs">60</text>
<text class="n" x="492" y="941" textLength="9" lengthAdjust="spacingAndGlyphs">80</text>
<text class="n" x="506" y="941" textLength="12" lengthAdjust="spacingAndGlyphs">100</text>
<text class="n" x="541" y="941" textLength="12" lengthAdjust="spacingAndGlyphs">140</text>
<text class="n" x="594" y="941" textLength="12" lengthAdjust="spacingAndGlyphs">200</text>
<text class="n" x="647" y="941" textLength="12" lengthAdjust="spacingAndGlyphs">280</text>
<text class="n" x="701" y="941" textLength="12" lengthAdjust="spacingAndGlyphs">320</text>
</svg>
</body></html>
